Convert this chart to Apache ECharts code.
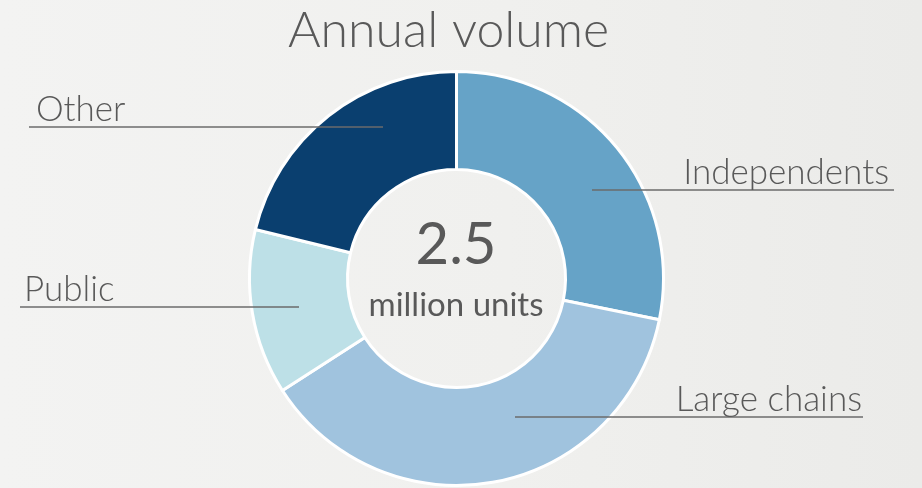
<!DOCTYPE html>
<html>
<head>
<meta charset="utf-8">
<script src="https://cdn.jsdelivr.net/npm/echarts@6/dist/echarts.min.js"></script>
<style>
  html, body { margin: 0; padding: 0; }
  body { background: linear-gradient(90deg, #f3f3f2 0%, #f0f0ee 55%, #ebebe9 100%); }
  #chart { width: 922px; height: 488px; }
</style>
</head>
<body>
<div id="chart"></div>
<script>
// Share of annual volume by channel (percent of total)
const categories = ['Independents', 'Large chains', 'Public', 'Other'];
const shares = [28.2, 37.7, 12.9, 21.2];
const sliceColors = ['#66a3c7', '#a0c3de', '#bde0e7', '#0a3f6f'];

const chartTitle = 'Annual volume';
const totalValue = '2.5';
const totalUnit = 'million units';

// Where each category label sits and how far its underline runs
const labelSpots = {
  'Independents': { x: 889, y: 190, align: 'right', line: [592, 894] },
  'Large chains': { x: 862, y: 417, align: 'right', line: [515, 863] },
  'Public':       { x: 24,  y: 307, align: 'left',  line: [20, 299] },
  'Other':        { x: 36,  y: 127, align: 'left',  line: [29, 383] }
};

const FONT = 'Lato, "Open Sans", sans-serif';
const TEXT = '#595959';

const CENTER = [456.5, 278.5];
const RADIUS = [109, 207];

const pieData = categories.map((name, i) => ({
  name: name,
  value: shares[i],
  itemStyle: { color: sliceColors[i] }
}));

const chart = echarts.init(document.getElementById('chart'), null, { renderer: 'canvas' });

chart.setOption({
  backgroundColor: 'transparent',
  animation: false,
  title: {
    text: chartTitle,
    left: 283,
    top: 1,
    textStyle: { fontFamily: FONT, fontWeight: 300, fontSize: 50, color: TEXT }
  },
  graphic: [
    {
      type: 'text', x: 456, y: 245, z: 10,
      style: { text: totalValue, fill: TEXT, font: '400 58px ' + FONT, textAlign: 'center', textVerticalAlign: 'middle' }
    },
    {
      type: 'text', x: 456, y: 305, z: 10,
      style: { text: totalUnit, fill: TEXT, font: '400 33px ' + FONT, textAlign: 'center', textVerticalAlign: 'middle' }
    }
  ],
  series: [
    {
      // the ring itself
      type: 'pie',
      z: 2,
      center: CENTER,
      radius: RADIUS,
      startAngle: 90,
      clockwise: true,
      silent: true,
      itemStyle: { borderColor: '#ffffff', borderWidth: 3 },
      label: { show: false },
      labelLine: { show: false },
      data: pieData
    },
    {
      // category names with their underlines, drawn above the ring
      type: 'pie',
      z: 5,
      center: CENTER,
      radius: RADIUS,
      startAngle: 90,
      clockwise: true,
      silent: true,
      avoidLabelOverlap: false,
      itemStyle: { color: 'transparent', borderWidth: 0 },
      label: {
        show: true,
        position: 'outside',
        formatter: '{b}',
        fontFamily: FONT,
        fontWeight: 300,
        fontSize: 35,
        lineHeight: 35,
        color: TEXT
      },
      labelLine: {
        show: true,
        length: 10,
        length2: 10,
        lineStyle: { color: '#6b6b6b', width: 1.5 }
      },
      labelLayout: function (params) {
        const spot = labelSpots[categories[params.dataIndex]];
        return {
          x: spot.x,
          y: spot.y,
          align: spot.align,
          verticalAlign: 'bottom',
          labelLinePoints: [[spot.line[0], spot.y], [spot.line[1], spot.y], [spot.line[1], spot.y]]
        };
      },
      data: categories.map((name, i) => ({
        name: name,
        value: shares[i],
        itemStyle: { color: 'transparent' }
      }))
    }
  ]
});
</script>
</body>
</html>
